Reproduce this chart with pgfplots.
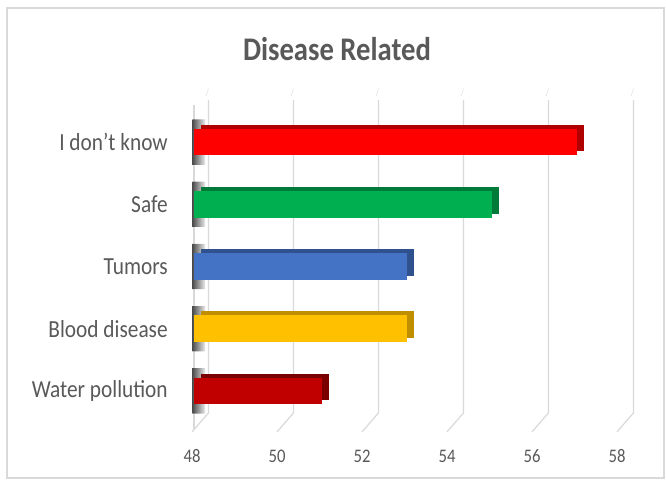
\documentclass[border=0pt]{standalone}
\usepackage{pgfplots}
\pgfplotsset{compat=1.18}
\usepackage{fontspec}
\setmainfont{Carlito}

\definecolor{txt}{HTML}{595959}
\definecolor{gridc}{HTML}{D9D9D9}
\definecolor{cRed}{HTML}{FF0000}
\definecolor{cRedD}{HTML}{B00000}
\definecolor{cGreen}{HTML}{00B050}
\definecolor{cGreenD}{HTML}{007A38}
\definecolor{cBlue}{HTML}{4472C4}
\definecolor{cBlueD}{HTML}{2F528F}
\definecolor{cGold}{HTML}{FFC000}
\definecolor{cGoldD}{HTML}{C08F00}
\definecolor{cMaroon}{HTML}{C00000}
\definecolor{cMaroonD}{HTML}{7A0000}

% one bar with a darker top/side face behind it
\newcommand{\cubebar}[3]{%
  \addplot[fill=#2, draw=none, xshift=5.25pt, yshift=3pt] coordinates {#3};
  \addplot[fill=#1, draw=none] coordinates {#3};
}

\begin{document}
\begin{tikzpicture}[x=1pt,y=1pt]
\path (0,0) rectangle (499.5,360);
\draw[draw=black!15, line width=0.9pt] (5.25,1.5) rectangle (498,354);
\node[font=\fontsize{21.5}{24}\selectfont\bfseries, text=txt, yscale=1.15] at (252.75,323.5) {Disease Related};

\begin{axis}[
  at={(145.5pt,43.5pt)}, anchor=south west,
  scale only axis, width=318.75pt, height=233.25pt,
  xmin=48, xmax=58, ymin=-0.5, ymax=4.5,
  clip=false,
  xbar, bar width=20pt, bar shift=0pt,
  axis x line*=bottom, axis y line*=left,
  axis line style={draw=none},
  major tick length=0pt, tick style={draw=none},
  xtick={48,50,...,58},
  ytick={0,1,2,3,4},
  yticklabels={Water pollution, Blood disease, Tumors, Safe, I don’t know},
  /pgf/number format/assume math mode=true,
  xticklabel style={font=\fontsize{12.5}{14}\selectfont, text=txt, anchor=center, inner sep=0pt, yshift=-25.5pt, xshift=-1.5pt, yscale=1.15},
  yticklabel style={font=\fontsize{16}{18}\selectfont, text=txt, anchor=east, inner sep=0pt, xshift=-19.5pt, yscale=1.15},
]
% side wall edge
\draw[gridc, line width=0.8pt] (axis cs:48,4.6) -- (axis cs:48,-0.62);
% back wall grid lines with their floor segments
\pgfplotsinvokeforeach{48,50,52,54,56,58}{
  \draw[gridc, line width=0.9pt]
    ([xshift=10.9pt]axis cs:#1,4.675) -- ([xshift=10.9pt]axis cs:#1,-0.353)
    -- ([xshift=-1.5pt]axis cs:#1,-0.659);
  \draw[gridc!60, line width=0.6pt]
    ([xshift=9pt]axis cs:#1,4.74) -- ([xshift=10.9pt]axis cs:#1,4.86);
}
% shadows on the back wall
\addplot[left color=black!70, right color=black!8, draw=none, bar width=34pt, xshift=-1.2pt]
  coordinates {(48.3,0) (48.3,1) (48.3,2) (48.3,3) (48.3,4)};

\cubebar{cMaroon}{cMaroonD}{(51,0)}
\cubebar{cGold}{cGoldD}{(53,1)}
\cubebar{cBlue}{cBlueD}{(53,2)}
\cubebar{cGreen}{cGreenD}{(55,3)}
\cubebar{cRed}{cRedD}{(57,4)}
\end{axis}
\end{tikzpicture}
\end{document}
